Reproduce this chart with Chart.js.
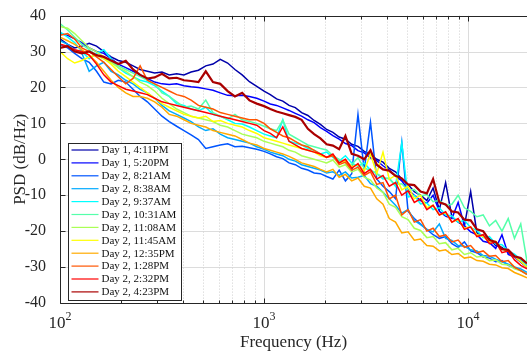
<!DOCTYPE html>
<html>
<head>
<meta charset="utf-8">
<script src="https://cdn.jsdelivr.net/npm/chart.js@4.4.1/dist/chart.umd.min.js"></script>
<style>
  html, body { margin: 0; padding: 0; background: #fff; }
  canvas { display: block; }
</style>
</head>
<body>
<canvas id="psdChart" width="527" height="356"></canvas>
<script>
// frequency bins (Hz), shared by every measurement
const freqHz = [100, 109, 118, 128, 139, 151, 164, 178, 193, 210, 228, 247, 268, 291, 316, 343, 373, 405, 439, 477, 518, 562, 610, 663, 720, 781, 848, 921,
  1000, 1073, 1152, 1236, 1326, 1423, 1528, 1640, 1760, 1889, 2027, 2175, 2334, 2505, 2689, 2886, 3097, 3324, 3567, 3828, 4109, 4409, 4732, 5079, 5450, 5849,
  6278, 6737, 7230, 7760, 8328, 8937, 9592, 10294, 11047, 11856, 12724, 13655, 14655, 15727, 16879, 18114, 19440];

const seriesNames = ['Day 1, 4:11PM', 'Day 1, 5:20PM', 'Day 2, 8:21AM', 'Day 2, 8:38AM', 'Day 2, 9:37AM', 'Day 2, 10:31AM',
  'Day 2, 11:08AM', 'Day 2, 11:45AM', 'Day 2, 12:35PM', 'Day 2, 1:28PM', 'Day 2, 2:32PM', 'Day 2, 4:23PM'];
const seriesColors = ['#0000AA', '#0000FF', '#0055FF', '#00AAFF', '#00FFFF', '#55FFAA', '#AAFF55', '#FFFF00', '#FFAA00', '#FF5500', '#FF0000', '#AA0000'];

// PSD values (dB/Hz)
const d1_0411pm = [33.5, 32, 31, 31.5, 32.3, 31.5, 30, 28.5, 27.5, 27, 26, 25, 24.5, 24, 24.3, 23.5, 23.8, 23.5, 24.3, 24.8, 26, 26.5, 27.8, 26.8, 25, 23.5, 21.6, 20.3,
  19, 18, 16.8, 16.2, 15, 14.4, 13, 12.2, 10.8, 9.7, 8.3, 7.5, 6.2, 5.6, 4.2, 3.6, 2.2, 1.4, 0, -0.8, -2.5, -3.5, -5.5, -7, -9, -10, -11.5, -8, -14, -6.5,
  -16, -17.5, -18.5, -9, -20.5, -21.5, -22, -24, -24.5, -26, -27, -28.5, -30];
const d1_0520pm = [35, 34.5, 33.5, 32.5, 31, 30, 29.5, 28, 26.5, 25.5, 24.5, 23.5, 22.5, 21.5, 21, 20.8, 21, 20.5, 20.2, 20, 19.6, 19.2, 18.5, 17.8, 17.7, 17.8, 17.5, 17,
  16.2, 15.4, 15, 14.3, 13.6, 12.8, 12, 11, 10.2, 8.8, 7.8, 6.6, 5.6, 4.4, 3.8, 2.4, 1.8, 0.4, -0.4, -1.8, -3, -4.6, -6, -8.5, -10, -11.5, -12.2, -10, -14.5, -15.8,
  -16.5, -12, -18.5, -20.2, -21, -22.8, -23.2, -24.8, -21, -26.5, -27.2, -28.6, -30];
const d2_0821am = [32, 31, 29.5, 28, 27, 24.5, 21.5, 21, 22, 21.5, 19.5, 17.5, 16, 14, 12, 10.5, 9.2, 8, 6.8, 5.5, 3, 3.5, 4, 4.3, 3.5, 3.6, 3.2, 2.8,
  2.2, 1.5, 0.7, 0.2, -1, -1.5, -2.5, -3, -3.8, -4, -4.8, -5.5, -3, -6, -4, 12.5, -3, 10.3, -5.5, -7.5, -9, -11, 4.7, -14.5, -16.5, -18, -19.5, -21, -22, -21.5,
  -23.5, -24.5, -23, -25.5, -26, -27.2, -27.5, -28.5, -28.2, -29.5, -30.2, -31, -32];
const d2_0838am = [33, 32, 30.5, 29.5, 24.5, 26, 27, 24.5, 23.5, 22, 21, 19.5, 18.5, 17, 15, 13.5, 12.5, 11.5, 10.5, 9, 8, 8.5, 7, 6, 5.5, 5, 4.5, 3.5,
  2.8, 2, 1.5, 1, 0, -0.5, -1.5, -2, -2.5, -3, -3.8, -3.5, -4.5, -3.5, -5.2, -5, -4.5, -6.8, -7.5, -9.2, -11, -12.8, -15, -14, -17, -18.2, -19.5, -20.2, -18, -22,
  -22.6, -24, -24.2, -25.2, -25.5, -26.8, -27, -27.8, -28.5, -29.2, -30, -30.5, -31.5];
const d2_0937am = [35.5, 34, 32.5, 30, 28, 29.5, 30.5, 28, 25.5, 24, 23, 22, 21.5, 20.5, 19, 17.5, 15.5, 15, 14, 13.5, 14.5, 12.5, 12, 11, 10, 9.8, 9, 8,
  7, 6.5, 6, 11, 5, 4.5, 4, 3, 2.5, 1.5, 2, 0.5, -0.5, 1, -1, -2, -1, -3, -4, -5.5, -5.2, -7.5, 4.5, -10.5, -10, -12.4, -12.2, -14, -13.5, -15.5,
  -15.8, -17.5, -17, -19, -19.8, -21.8, -21.5, -23.6, -23.8, -25.5, -26.4, -28, -29.5];
const d2_1031am = [37.8, 36, 34, 32, 30.5, 29, 28, 27, 26, 25, 24, 23, 22, 21, 18.5, 17.5, 16, 14.5, 14.8, 14, 16.5, 13, 12, 11.2, 12.5, 11, 10.5, 10,
  9.2, 8.5, 8, 10.9, 7, 6, 5, 4, 3.5, 3, 2.6, 1, 0, -1, -1.5, 0.5, -2.5, -3, -4, -5, -5.5, -7, -6.8, -8.6, -8.4, -10.2, -9.8, -11.8, -11.4, -12.8,
  -12.5, -10, -13.5, -14.5, -16, -15.5, -18.5, -17, -20, -16.5, -22, -18, -28.5];
const d2_1108am = [37, 36.5, 35, 33, 31, 30, 28.5, 27, 25.5, 24.5, 23, 21.5, 20.5, 19, 17, 15.5, 14, 13, 12, 11.5, 11, 10.5, 9.5, 9, 8, 7, 6.5, 6,
  5, 4.5, 4, 3.5, 2.5, 2, 1, 0.5, 0, -0.5, -1, -0.2, -2.2, -1.5, -3.5, -2.8, -5, -5.8, -8, -9.2, -12.5, -13.4, -16, -16.8, -19.2, -19.8, -21.8, -21.5, -23.5, -23.2,
  -25.2, -24.8, -26.5, -26, -27.2, -27, -28.2, -28, -29.2, -29.4, -30.5, -31, -32];
const d2_1145am = [30, 28, 26.8, 27.5, 28.5, 29, 28, 26.5, 24.5, 23, 21.5, 20, 18.5, 17, 15.5, 14.5, 13.5, 12.5, 12, 11.5, 12, 10.5, 10.8, 10, 9.5, 9, 8, 7.2,
  6, 5.5, 5, 4.5, 4, 3.5, 3, 2.5, 2, 1, 0.5, 1.2, -1, -0.4, -2, -1.5, -3.2, 1.5, -4, 2, -5.5, -4.5, -8.5, -7.5, -11, -10, -13.5, -12.8, -15.5, -14.8,
  -17.5, -16.8, -19.2, -18.8, -21, -21.5, -23, -22.8, -25, -25.5, -27, -28.5, -30];
const d2_1235pm = [34, 33, 32, 30.5, 29, 27, 24.5, 22, 20, 18.5, 17.5, 17.5, 17, 16, 14.5, 12.5, 12, 11, 10, 9.5, 9, 8, 7.5, 7, 6.5, 5.5, 4.5, 4,
  3, 2.5, 2, 1.5, 0.8, 0, -1, -1.5, -2, -2.8, -3.5, -2.8, -5, -4.2, -6, -5.2, -7.5, -8, -11, -12.5, -16.5, -17.5, -20.5, -20.2, -22.5, -22.2, -24, -24.2, -25.5, -25.2,
  -26.5, -26.2, -27.5, -27.2, -28.2, -28.4, -29.2, -29.4, -30.2, -30.4, -31.5, -32.2, -33];
const d2_0128pm = [34.5, 35, 33.5, 31, 30, 28.5, 27, 25, 23, 21, 22.5, 26, 22, 21, 20, 19, 18, 17.5, 16.5, 15, 14.5, 14, 13, 12.5, 12, 11.5, 11, 11,
  10, 8.5, 7.5, 6.5, 6, 5, 4, 3.5, 2.5, 1.5, 0.5, 1, -1.5, -0.8, -3, -2.2, -4.5, -3.5, -7, -6.5, -11, -10, -15.5, -14, -17.5, -16.8, -20, -19.2, -21.5, -21,
  -23, -22.5, -24.5, -24, -26, -25.5, -27, -26.8, -28.5, -28.2, -30, -31, -32];
const d2_0232pm = [32, 31.5, 30.5, 30, 29, 26.5, 23.5, 21.5, 20.5, 19.5, 19, 18.5, 18, 17, 16, 15.5, 15, 14.5, 14, 13.5, 13, 12.5, 12, 11.5, 11, 10.5, 10, 9.5,
  8, 7.2, 6, 9, 5, 4, 3, 2.5, 2, 1.5, 0.5, 1.5, -1, 0, -2.5, -1.2, -4, -2.8, -5.5, -4.5, -7.5, -6.5, -10, -8.8, -12, -11, -14, -12.8, -15.5, -14.6,
  -17.5, -16.5, -19.5, -18.8, -21.5, -21, -23.5, -23, -26, -25.5, -28, -29.5, -30.5];
const d2_0423pm = [31, 31.5, 30, 29.5, 30, 29, 28.5, 27.5, 26.5, 27.4, 25, 23.5, 22.5, 22.8, 23.8, 22.5, 22.7, 22, 21.8, 21.5, 24.5, 21.5, 21, 19, 17.5, 18.5, 16.4, 15.5,
  14.8, 14, 13.3, 12.8, 12.3, 11.8, 11, 8.5, 7, 5.8, 4.2, 3.8, 2.8, 6.5, 1.5, 1, 0, 2.5, -1.5, -2.8, -3.2, -4.6, -5.3, -7, -7.2, -9, -9.5, -5.5, -12, -12.6,
  -14.5, -14.8, -16.8, -17, -19.5, -20, -22.5, -23, -25, -25.2, -27, -27.5, -29];

const seriesValues = [d1_0411pm, d1_0520pm, d2_0821am, d2_0838am, d2_0937am, d2_1031am,
  d2_1108am, d2_1145am, d2_1235pm, d2_0128pm, d2_0232pm, d2_0423pm];

const yTicks = [-40, -30, -20, -10, 0, 10, 20, 30, 40];
const xDecadeExps = [2, 3, 4];
const xMin = 100, xMax = 19440;

const FONT = "'Liberation Serif', 'Times New Roman', serif";
const INK = '#262626';

var datasets = seriesValues.map(function (vals, i) {
  return {
    label: seriesNames[i],
    data: vals.map(function (v, k) { return { x: freqHz[k], y: v }; }),
    borderColor: seriesColors[i],
    backgroundColor: seriesColors[i],
    borderWidth: i === 11 ? 2.2 : 1.5,
    pointRadius: 0,
    tension: 0,
    fill: false,
    order: seriesValues.length - i   // later curves on top, as in the original
  };
});

// grid, box, inward ticks, decade labels and the in-plot legend
const framePlugin = {
  id: 'frame',
  beforeDatasetsDraw(chart) {
    const { ctx, chartArea: a, scales: { x, y } } = chart;
    ctx.save();
    ctx.lineWidth = 1;
    ctx.strokeStyle = '#dcdcdc';
    yTicks.forEach(function (v) {
      if (v <= -40 || v >= 40) return;
      const py = Math.round(y.getPixelForValue(v)) + 0.5;
      ctx.beginPath(); ctx.moveTo(a.left, py); ctx.lineTo(a.right, py); ctx.stroke();
    });
    xDecadeExps.forEach(function (e) {
      const dec = Math.pow(10, e);
      for (let m = 1; m <= 9; m++) {
        const f = m * dec;
        if (f <= xMin || f >= xMax) continue;
        const px = Math.round(x.getPixelForValue(f)) + 0.5;
        if (m === 1) { ctx.setLineDash([]); ctx.strokeStyle = '#dcdcdc'; }
        else { ctx.setLineDash([1, 2]); ctx.strokeStyle = '#cfcfcf'; }
        ctx.beginPath(); ctx.moveTo(px, a.top); ctx.lineTo(px, a.bottom); ctx.stroke();
      }
    });
    ctx.restore();
  },
  afterDatasetsDraw(chart) {
    const { ctx, chartArea: a, scales: { x, y } } = chart;
    ctx.save();
    ctx.strokeStyle = INK;
    ctx.lineWidth = 1;
    const L = Math.round(a.left) + 0.5, B = Math.round(a.bottom) + 0.5, T = Math.round(a.top) + 0.5;
    ctx.beginPath();
    ctx.moveTo(L, T); ctx.lineTo(a.right, T);
    ctx.moveTo(L, T); ctx.lineTo(L, B); ctx.lineTo(a.right, B);
    ctx.stroke();

    // y ticks (inward)
    ctx.beginPath();
    yTicks.forEach(function (v) {
      const py = Math.round(y.getPixelForValue(v)) + 0.5;
      ctx.moveTo(L, py); ctx.lineTo(L + 5, py);
    });
    // x ticks (inward, bottom and top)
    xDecadeExps.forEach(function (e) {
      const dec = Math.pow(10, e);
      for (let m = 1; m <= 9; m++) {
        const f = m * dec;
        if (f < xMin || f > xMax) continue;
        const px = Math.round(x.getPixelForValue(f)) + 0.5;
        const len = m === 1 ? 5 : 3;
        ctx.moveTo(px, B); ctx.lineTo(px, B - len);
        ctx.moveTo(px, T); ctx.lineTo(px, T + len);
      }
    });
    ctx.stroke();

    // decade labels 10^n
    ctx.fillStyle = INK;
    ctx.textBaseline = 'alphabetic';
    ctx.textAlign = 'left';
    xDecadeExps.forEach(function (e) {
      const px = x.getPixelForValue(Math.pow(10, e));
      ctx.font = '17px ' + FONT;
      const wBase = ctx.measureText('10').width;
      ctx.font = '12px ' + FONT;
      const wExp = ctx.measureText(String(e)).width;
      const x0 = px - (wBase + wExp) / 2;
      ctx.font = '17px ' + FONT;
      ctx.fillText('10', x0, a.bottom + 25);
      ctx.font = '12px ' + FONT;
      ctx.fillText(String(e), x0 + wBase, a.bottom + 17);
    });

    // legend box
    const bx = Math.round(a.left) + 8.5, by = Math.round(a.top) + 127.5, bw = 113, bh = 157;
    ctx.fillStyle = '#ffffff';
    ctx.fillRect(bx, by, bw, bh);
    ctx.strokeStyle = INK;
    ctx.strokeRect(bx, by, bw, bh);
    ctx.font = '11px ' + FONT;
    ctx.textBaseline = 'middle';
    chart.data.datasets.forEach(function (ds, i) {
      const cy = by + 6.5 + i * 12.9;
      ctx.strokeStyle = ds.borderColor;
      ctx.lineWidth = 1.2;
      ctx.beginPath(); ctx.moveTo(bx + 3, cy); ctx.lineTo(bx + 30, cy); ctx.stroke();
      ctx.fillStyle = '#111';
      ctx.fillText(ds.label, bx + 33, cy + 0.5);
    });
    ctx.restore();
  }
};

new Chart(document.getElementById('psdChart'), {
  type: 'line',
  data: { datasets: datasets },
  options: {
    responsive: false,
    animation: false,
    layout: { padding: { top: 12, right: 0, bottom: 0, left: 0 } },
    plugins: { legend: { display: false }, tooltip: { enabled: false } },
    scales: {
      x: {
        type: 'logarithmic',
        min: xMin,
        max: xMax,
        grid: { display: false },
        border: { display: false },
        ticks: { display: false },
        title: { display: true, text: 'Frequency (Hz)', color: INK, font: { family: FONT, size: 17 }, padding: { top: 0, bottom: 3 } },
        afterFit: function (s) { s.height = 53; }
      },
      y: {
        min: -40,
        max: 40,
        grid: { display: false },
        border: { display: false },
        ticks: { stepSize: 10, padding: 6, color: INK, font: { family: FONT, size: 16 } },
        title: { display: true, text: 'PSD (dB/Hz)', color: INK, font: { family: FONT, size: 17 }, padding: { top: 10, bottom: 0 } },
        afterFit: function (s) { s.width = 60; }
      }
    }
  },
  plugins: [framePlugin]
});
</script>
</body>
</html>
